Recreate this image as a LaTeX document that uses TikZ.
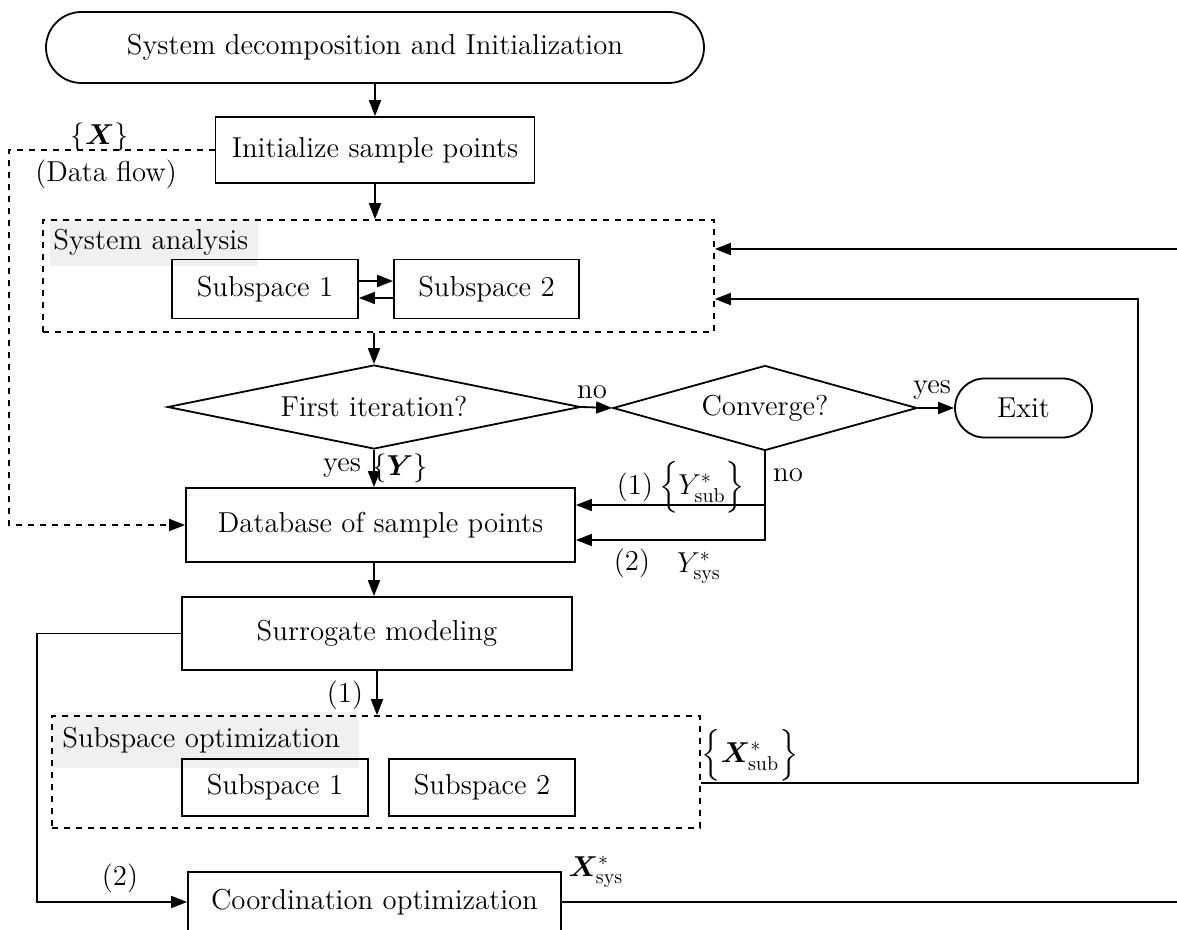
\documentclass[tikz,border=0pt]{standalone}
\usepackage{amsmath}
\usepackage{amssymb}
\usepackage{bm}
\usepackage{tikz}
\usepackage{xcolor}
\usetikzlibrary{shapes.geometric,shapes.misc,arrows.meta}

\begin{document}
\begin{tikzpicture}[x=0.5pt, y=-0.5pt,
  font=\fontsize{14.4}{17}\selectfont,
  >={Triangle[length=8pt,width=6pt]},
  box/.style={rectangle, draw, line width=0.9pt, inner sep=0pt},
  term/.style={rounded rectangle, draw, line width=0.9pt, inner sep=0pt},
  decision/.style={diamond, draw, line width=0.9pt, inner sep=0pt, aspect=4},
  dashbox/.style={rectangle, draw, line width=0.8pt, dash pattern=on 3pt off 3pt, inner sep=0pt},
  grouplabel/.style={rectangle, fill=black!6, anchor=west, inner xsep=1.5pt, inner ysep=0pt, text width=#1, align=left},
  lbl/.style={inner sep=0pt},
  flow/.style={->, line width=0.9pt}]
\useasboundingbox (0,0) rectangle (1177,930);

\node[term, minimum width=329pt, minimum height=35.5pt] (start) at (375,47.5) {System decomposition and Initialization};
\node[box, minimum width=159.5pt, minimum height=33pt] (init) at (375,150) {Initialize sample points};

% system analysis
\node[grouplabel=101pt, minimum height=23.5pt] (analysislbl) at (50,242.5) {System analysis};
\node[dashbox, minimum width=335.5pt, minimum height=56pt] (analysis) at (378.5,276) {};
\node[box, minimum width=93pt, minimum height=29.5pt] (sa1) at (265,289) {Subspace 1};
\node[box, minimum width=92.5pt, minimum height=29.5pt] (sa2) at (486.5,289) {Subspace 2};

\node[decision, minimum width=206.5pt, minimum height=42pt] (first) at (374,407) {First iteration?};
\node[decision, minimum width=152pt, minimum height=42.5pt] (conv) at (765,408) {Converge?};
\node[term, minimum width=68.5pt, minimum height=29.5pt] (exit) at (1023.5,408) {Exit};

\node[box, minimum width=194.5pt, minimum height=37pt] (db) at (380.5,525) {Database of sample points};
\node[box, minimum width=195pt, minimum height=36.5pt] (surr) at (377,633.5) {Surrogate modeling};

% subspace optimization
\node[grouplabel=144pt, inner xsep=4.5pt, minimum height=28pt] (optlbl) at (53,740) {Subspace optimization};
\node[dashbox, minimum width=324pt, minimum height=56pt] (opt) at (376,772) {};
\node[box, minimum width=93pt, minimum height=28.5pt] (so1) at (275,787.5) {Subspace 1};
\node[box, minimum width=93pt, minimum height=28.5pt] (so2) at (482,787.5) {Subspace 2};

\node[box, minimum width=186.5pt, minimum height=30pt] (coord) at (374.5,902) {Coordination optimization};

\coordinate (rtop) at (1177,249);
\coordinate (rbot) at (1177,902);
\coordinate (dleft) at (9,525);
\coordinate (sleft) at (37,902);
\coordinate (loop) at (1138,783);
\coordinate (db1) at ([yshift=10pt]db.east);
\coordinate (db2) at ([yshift=-7.5pt]db.east);

\draw[flow] (start.south) -- (init.north);
\draw[flow] (init.south) -- (init.south |- analysis.north);
\draw[flow] ([yshift=4pt]sa1.east) -- ([yshift=4pt]sa2.west);
\draw[flow] ([yshift=-4.5pt]sa2.west) -- ([yshift=-4.5pt]sa1.east);
\draw[flow] (first.north |- analysis.south) -- (first.north);
\draw[flow] (first.east) -- (conv.west);
\draw[flow] (conv.east) -- (exit.west);
\draw[flow] (first.south) -- (first.south |- db.north);
\draw[flow] (conv.south) -- (conv.south |- db2) -- (db2);
\draw[flow] (conv.south |- db1) -- (db1);
\draw[flow, dash pattern=on 3pt off 3pt] (init.west) -| (dleft) -- (db.west);
\draw[flow] (first.south |- db.south) -- (first.south |- surr.north);
\draw[flow] (surr.south) -- (surr.south |- opt.north);
\draw[flow] (surr.west) -| (sleft) -- (coord.west);
\draw[flow] ([yshift=-5.5pt]opt.east) -- (loop) |- ([yshift=-11.5pt]analysis.east);
\draw[flow] (rtop) -- ([yshift=13.5pt]analysis.east);
\draw[line width=0.9pt] (coord.east) -- (rbot);

% labels
\node[lbl] (xset) at (100,137) {$\{\boldsymbol{X}\}$};
\node[lbl] (dataflow) at (106,174) {(Data flow)};
\node[lbl] (no1) at (592,392) {no};
\node[lbl] (yes2) at (932,390) {yes};
\node[lbl] (yes1) at (342,468) {yes};
\node[lbl] (yset) at (400,468) {$\{\boldsymbol{Y}\}$};
\node[lbl] (no2) at (788,475) {no};
\node[lbl] (p1a) at (635,487) {(1)};
\node[lbl] (ysub) at (702,487) {$\Big\{Y^{*}_{\mathrm{sub}}\Big\}$};
\node[lbl] (p2a) at (632,563) {(2)};
\node[lbl] (ysys) at (699,568) {$Y^{*}_{\mathrm{sys}}$};
\node[lbl] (p1b) at (345,695) {(1)};
\node[lbl] (xsub) at (750,755) {$\Big\{\boldsymbol{X}^{*}_{\mathrm{sub}}\Big\}$};
\node[lbl] (p2b) at (120,878) {(2)};
\node[lbl] (xsys) at (596,872) {$\boldsymbol{X}^{*}_{\mathrm{sys}}$};
\end{tikzpicture}
\end{document}
